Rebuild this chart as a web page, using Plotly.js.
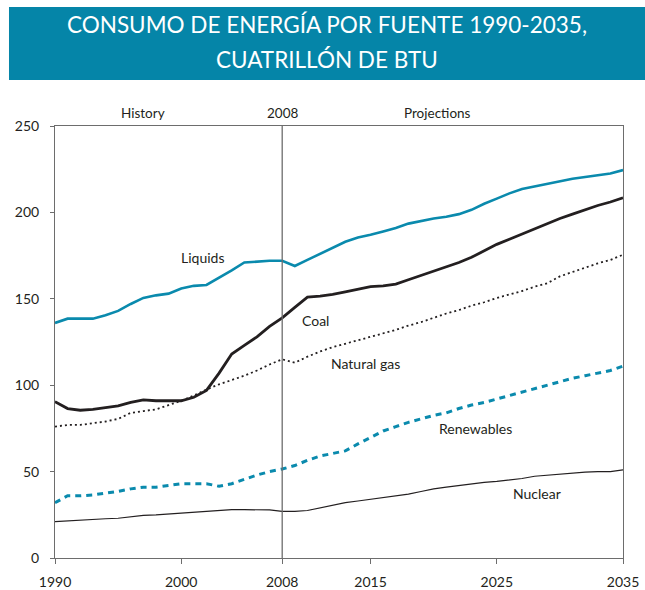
<!DOCTYPE html>
<html>
<head>
<meta charset="utf-8">
<script src="https://cdn.plot.ly/plotly-3.0.1.min.js"></script>
<style>
  html, body { margin: 0; padding: 0; background: #ffffff; }
  #chart { width: 645px; height: 590px; }
</style>
</head>
<body>
<div id="chart"></div>
<script>
var years = [];
for (var yr = 1990; yr <= 2035; yr++) { years.push(yr); }

var liquids = [136, 138.5, 138.5, 138.5, 140.5, 143, 147, 150.5, 152, 153,
  156, 157.5, 158, 162, 166.5, 171, 171.5, 172, 172, 169,
  172.5, 176, 179.5, 183, 185.5, 187, 189, 191, 193.5, 195,
  196.5, 197.5, 199, 201.5, 205, 208, 211, 213.5, 215, 216.5,
  218, 219.5, 220.5, 221.5, 222.5, 224.5];

var coal = [90.5, 86.5, 85.5, 86, 87, 88, 90, 91.5, 91, 91,
  91, 93, 97, 107, 118, 123, 128, 134, 139, 145,
  151, 151.5, 152.5, 154, 155.5, 157, 157.5, 158.5, 161, 163.5,
  166, 168.5, 171, 174, 178, 181.5, 184.5, 187.5, 190.5, 193.5,
  196.5, 199, 201.5, 204, 206, 208.5];

var naturalGas = [76, 77, 77, 78, 79, 80.5, 84, 85, 86, 88.5,
  91, 94, 97.5, 100.5, 103, 105.5, 108.5, 112, 115, 113,
  116.5, 119.5, 122, 124, 126, 128, 130, 132, 134.5, 136.5,
  139, 141.5, 143.5, 146, 148, 150.5, 152.5, 154.5, 157, 159,
  163, 165.5, 168, 170.5, 172.5, 175.5];

var renewables = [32, 36, 36, 36.5, 37.5, 38.5, 40, 41, 41, 42,
  43, 43, 43, 41.5, 43, 45.5, 48, 50, 51.5, 53.5,
  56.5, 59, 60.5, 62, 66, 70, 73.5, 76, 78.5, 80.5,
  82.5, 84, 86.5, 88.5, 90, 92, 94, 96, 98, 100,
  102, 104, 105.5, 107, 108.5, 111];

var nuclear = [21, 21.5, 22, 22.3, 22.7, 23, 24, 24.7, 25, 25.5,
  26, 26.3, 27, 27.5, 28, 28, 28, 27.8, 27, 27,
  27.5, 29, 30.5, 32, 33, 34, 35, 35.8, 37, 38.5,
  40, 41, 42, 43, 43.8, 44.3, 45, 46, 47.3, 48,
  48.4, 49, 49.7, 50, 50, 51];

var xTicks = [1990, 2000, 2008, 2015, 2025, 2035];
var yTicks = [0, 50, 100, 150, 200, 250];

var seriesNames = ["Liquids", "Coal", "Natural gas", "Renewables", "Nuclear"];
var titleLine1 = "CONSUMO DE ENERGÍA POR FUENTE 1990-2035,";
var titleLine2 = "CUATRILLÓN DE BTU";

var TEAL = "#0a8aad";
var DARK = "#231f20";
var FONT = "Lato, 'Open Sans', sans-serif";

var traces = [
  {x: years, y: nuclear, name: seriesNames[4], mode: "lines",
   line: {color: DARK, width: 1.2}},
  {x: years, y: renewables, name: seriesNames[3], mode: "lines",
   line: {color: TEAL, width: 3, dash: "6px,5px"}},
  {x: years, y: naturalGas, name: seriesNames[2], mode: "lines",
   line: {color: DARK, width: 1.8, dash: "2px,3px"}},
  {x: years, y: coal, name: seriesNames[1], mode: "lines",
   line: {color: DARK, width: 2.8}},
  {x: years, y: liquids, name: seriesNames[0], mode: "lines",
   line: {color: TEAL, width: 2.6}}
];

function lineLabel(text, x, y) {
  return {text: text, x: x, y: y, xref: "x", yref: "y", showarrow: false,
          font: {family: FONT, size: 14, color: "#231f20"}, xanchor: "center", yanchor: "middle"};
}
function headLabel(text, x) {
  return {text: text, x: x, y: 1.03, xref: "x", yref: "paper", showarrow: false,
          font: {family: FONT, size: 13.5, color: "#231f20"}, xanchor: "center", yanchor: "middle"};
}

var layout = {
  width: 645, height: 590,
  margin: {l: 55, r: 22, t: 126, b: 32, pad: 0},
  paper_bgcolor: "#ffffff", plot_bgcolor: "#ffffff",
  showlegend: false,
  font: {family: FONT, size: 13.5, color: "#231f20"},
  title: {
    text: titleLine1,
    font: {family: FONT, size: 22.5, color: "#ffffff"},
    x: 0.507, xref: "container", xanchor: "center",
    y: 0.9568, yref: "container", yanchor: "middle"
  },
  xaxis: {
    range: [1990, 2035], tickvals: xTicks, ticktext: xTicks.map(String),
    showgrid: false, zeroline: false, showline: true, mirror: true,
    linecolor: "#6d6d6d", linewidth: 1, ticks: "outside", ticklen: 5,
    ticklabelstandoff: 6,
    tickcolor: "#6d6d6d", tickfont: {family: FONT, size: 14, color: "#231f20"}
  },
  yaxis: {
    range: [0, 250], tickvals: yTicks, ticktext: yTicks.map(String),
    showgrid: false, zeroline: false, showline: true, mirror: true,
    linecolor: "#6d6d6d", linewidth: 1, ticks: "outside", ticklen: 4,
    ticklabelstandoff: 8,
    tickcolor: "#6d6d6d", tickfont: {family: FONT, size: 14, color: "#231f20"}
  },
  shapes: [
    {type: "rect", xref: "paper", yref: "paper", x0: -0.081, x1: 1.04, y0: 1.1065, y1: 1.2755,
     fillcolor: "#0585a8", line: {width: 0}, layer: "below"},
    {type: "line", xref: "x", yref: "paper", x0: 2008, x1: 2008, y0: 0, y1: 1,
     line: {color: "#6d6d6d", width: 1.3}}
  ],
  annotations: [
    {text: titleLine2, xref: "paper", yref: "paper", x: (327 - 55) / 568, y: 1.1528,
     showarrow: false, xanchor: "center", yanchor: "middle",
     font: {family: FONT, size: 22.5, color: "#ffffff"}},
    headLabel("History", 1997),
    headLabel("2008", 2008),
    headLabel("Projections", 2020.3),
    lineLabel(seriesNames[0], 2001.7, 174),
    lineLabel(seriesNames[1], 2010.6, 137.7),
    lineLabel(seriesNames[2], 2014.6, 112.3),
    lineLabel(seriesNames[3], 2023.3, 75),
    lineLabel(seriesNames[4], 2028.2, 37.4)
  ]
};

Plotly.newPlot("chart", traces, layout, {displayModeBar: false, staticPlot: true});
</script>
</body>
</html>
